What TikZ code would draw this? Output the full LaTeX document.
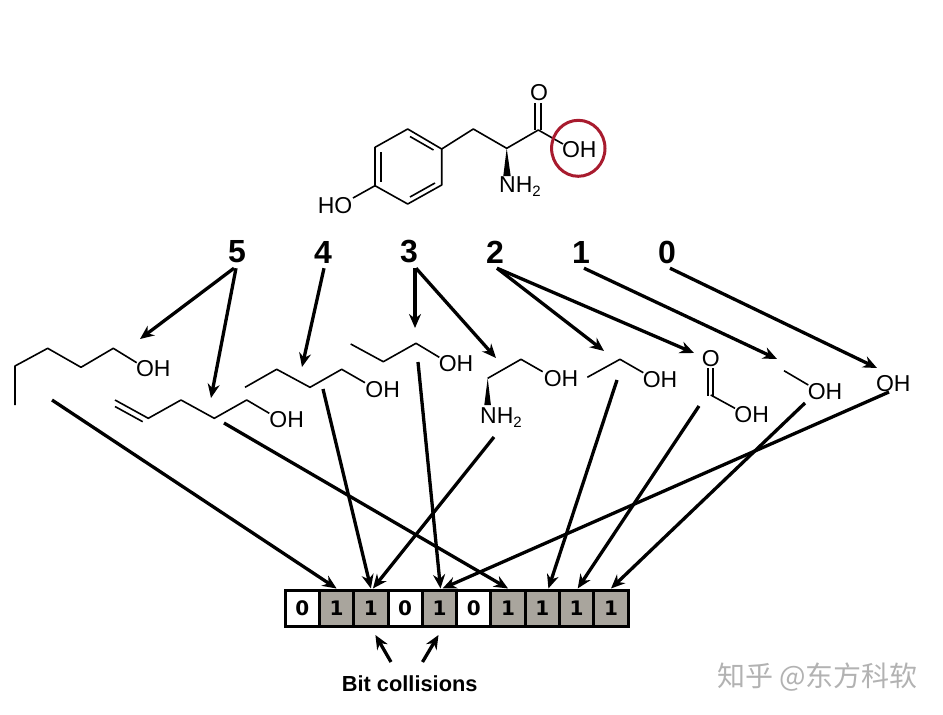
\documentclass[tikz,border=0pt]{standalone}
\usepackage{fontspec}
\setmainfont{Liberation Sans}
\newfontfamily\cjkfont{Noto Sans CJK SC}
\newfontfamily\bitfont{DejaVu Sans}
\usepackage{tikz}
\usetikzlibrary{arrows.meta}

\definecolor{bitgray}{HTML}{A9A59D}
\definecolor{ringred}{HTML}{A81B2E}

\begin{document}
\begin{tikzpicture}[x=1pt, y=-1pt,
    bond/.style={line width=1.6pt, line join=round},
    chem/.style={inner sep=0pt, font=\fontsize{23}{25}\selectfont},
    num/.style={inner sep=0pt, minimum height=32pt, font=\bfseries\fontsize{32}{34}\selectfont},
    heavy/.style={line width=3.3pt, -{Stealth[length=14pt, width=12pt]}},
    bit0/.style={fill=white, draw=black, line width=3pt, minimum width=34.3pt, minimum height=36pt,
        inner sep=0pt, font=\bitfont\bfseries\fontsize{20}{22}\selectfont},
    bit1/.style={bit0, fill=bitgray}]
    % Page (1pt = 1 pixel of the reference)
    \useasboundingbox (0,0) rectangle (943,715);

    % Ring of the large molecule
    \draw[bond] (407.7,129) -- (441.7,149) -- (441.7,185) -- (407.7,204) -- (375,185.7) -- (375,147.3) -- cycle;
    \draw[bond] (410,136.5) -- (433.5,150);
    \draw[bond] (381,152) -- (381,181.5);
    \draw[bond] (410,197) -- (435,183);

    % Side chain of the large molecule
    \draw[bond] (441.7,149) -- (473.3,129) -- (506.7,148.3) -- (538.3,130) -- (563,144);
    \draw[bond] (535,103) -- (535,130);
    \draw[bond] (540.7,103) -- (540.7,130);
    \draw[bond] (375,185.7) -- (353,198);
    \fill (506.7,148.3) -- (510.7,176) -- (503.3,176) -- cycle;
    \node[chem] (o0) at (539,93) {O};
    \node[chem] (oh0) at (579.3,149.3) {OH};
    \node[chem] (ho0) at (335,205.7) {HO};
    \node[chem, anchor=west] (nh0) at (499,187) {NH\raisebox{-4pt}{\fontsize{15}{15}\selectfont 2}};

    % Circle round the OH
    \draw[ringred, line width=3pt] (oh0) ++(-1,-1) ellipse (26.7 and 28);

    % Bit numbers
    \node[num] (n5) at (237,252) {5};
    \node[num] (n4) at (323,252) {4};
    \node[num] (n3) at (409,252) {3};
    \node[num] (n2) at (495,252) {2};
    \node[num] (n1) at (581,252) {1};
    \node[num] (n0) at (667,252) {0};

    % Fragments, left to right
    \draw[bond] (15,405) -- (15,366) -- (47.7,348.3) -- (81,367.3) -- (113.3,348.3) -- (136.7,362.7);
    \node[chem] (oh1) at (153.3,368.3) {OH};

    \draw[bond] (115,400) -- (148.3,418.3) -- (181,400) -- (214.3,418.3) -- (246.7,400) -- (269.3,413.3);
    \draw[bond] (115,406.5) -- (142.7,421.7);
    \node[chem] (oh2) at (286.7,420) {OH};

    \draw[bond] (245,387.3) -- (276.7,369.3) -- (310,387.3) -- (341.7,369.3) -- (365,382.7);
    \node[chem] (oh3) at (382.7,389.3) {OH};

    \draw[bond] (350.7,344) -- (383.3,361.7) -- (416,343.3) -- (439.3,357.3);
    \node[chem] (oh4) at (456,363.3) {OH};

    \draw[bond] (487.7,378.3) -- (521,359.3) -- (542.7,371.7);
    \fill (487.7,378.3) -- (490.9,405) -- (484.3,405) -- cycle;
    \node[chem] (oh5) at (561,378.3) {OH};
    \node[chem, anchor=west] (nh5) at (480,418) {NH\raisebox{-4pt}{\fontsize{15}{15}\selectfont 2}};

    \draw[bond] (587.3,377.3) -- (620,359.3) -- (643.3,372.7);
    \node[chem] (oh6) at (660,379.3) {OH};

    \node[chem] (o7) at (710.7,358.3) {O};
    \draw[bond] (708.2,368.3) -- (708.2,396);
    \draw[bond] (713.2,368.3) -- (713.2,396);
    \draw[bond] (710.7,395) -- (735,408.3);
    \node[chem] (oh7) at (751.7,415) {OH};

    \draw[bond] (784,370.7) -- (808.3,385);
    \node[chem] (oh8) at (825,391.7) {OH};

    \node[chem] (oh9) at (893.3,384) {OH};

    % Bit vector
    \foreach \val [count=\i from 0] in {0,1,1,0,1,0,1,1,1,1}
        \node[bit\val] (b\i) at ({302.3+34.3*\i},608) {\val};

    % Free ends of the arrows
    \coordinate (t1) at (140,339);
    \coordinate (t2) at (211,398);
    \coordinate (t3) at (302,367);
    \coordinate (t4) at (415,328);
    \coordinate (t5) at (496,358);
    \coordinate (t6) at (604,351);
    \coordinate (t7) at (694,353);
    \coordinate (t8) at (777,359);
    \coordinate (t9) at (877,368);
    \coordinate (s1) at (52,400);
    \coordinate (s2) at (224,423);
    \coordinate (s3) at (323,389);
    \coordinate (s4) at (418,362);
    \coordinate (s5) at (494,437);
    \coordinate (s6) at (617,380);
    \coordinate (s7) at (699,406);
    \coordinate (s8) at (805,403);
    \coordinate (s9) at (889,392);

    % Numbers to fragments
    \draw[heavy] ([xshift=-3pt]n5.south) -- (t1);
    \draw[heavy] ([xshift=-1pt]n5.south) -- (t2);
    \draw[heavy] ([xshift=1pt]n4.south) -- (t3);
    \draw[heavy] ([xshift=6pt]n3.south) -- (t4);
    \draw[heavy] ([xshift=7pt]n3.south) -- (t5);
    \draw[heavy] ([xshift=2pt]n2.south) -- (t6);
    \draw[heavy] ([xshift=2pt]n2.south) -- (t7);
    \draw[heavy] ([xshift=3pt]n1.south) -- (t8);
    \draw[heavy] ([xshift=3pt]n0.south) -- (t9);

    % Fragments to bits
    \draw[heavy] (s1) -- (b1.north);
    \draw[heavy] (s2) -- (b6.north);
    \draw[heavy] (s3) -- (b2.north);
    \draw[heavy] (s4) -- ([xshift=1pt]b4.north);
    \draw[heavy] (s5) -- ([xshift=2pt]b2.north);
    \draw[heavy] (s6) -- ([xshift=6pt]b7.north);
    \draw[heavy] (s7) -- ([xshift=1pt]b8.north);
    \draw[heavy] (s8) -- (b9.north);
    \draw[heavy] (s9) -- ([xshift=3pt]b4.north);

    % Collision label
    \node[inner sep=0pt, font=\bfseries\fontsize{21.8}{24}\selectfont] (coll) at (409.7,684) {Bit collisions};
    \coordinate (c1) at (391,662);
    \coordinate (c2) at (422.5,662);
    \draw[heavy] (c1) -- ([yshift=-7.5pt, xshift=4.5pt]b2.south);
    \draw[heavy] (c2) -- ([yshift=-7.5pt, xshift=-1pt]b4.south);

    % Watermark
    \node[inner sep=0pt, anchor=west, text=black!30, font=\cjkfont\fontsize{28}{30}\selectfont] (mark) at (717,677) {知乎 @东方科软};
\end{tikzpicture}
\end{document}
